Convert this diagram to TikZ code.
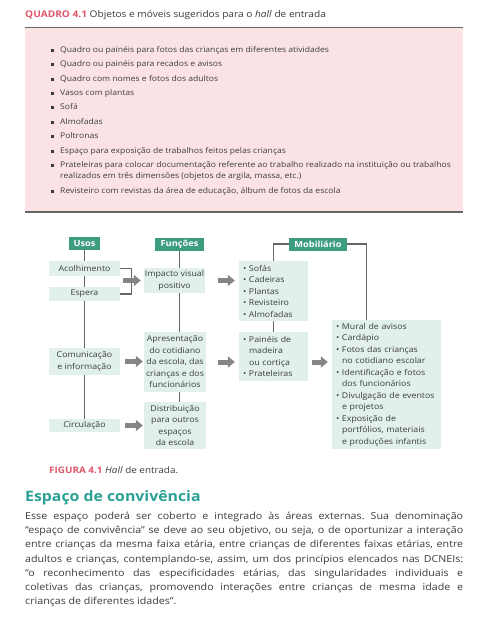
\documentclass[tikz,border=0pt]{standalone}
\usepackage{fontspec}
\setmainfont{Open Sans}[FakeStretch=1.1]
\usetikzlibrary{arrows.meta,backgrounds}
\definecolor{verde}{HTML}{3E9C80}
\definecolor{verdeclaro}{HTML}{E2F0EC}
\definecolor{rosa}{HTML}{FBE3E5}
\definecolor{vermelho}{HTML}{E0566A}
\definecolor{titulo}{HTML}{2AA196}
\definecolor{texto}{HTML}{3C3C3C}
\definecolor{linha}{HTML}{666666}
\definecolor{cinza}{HTML}{858585}
\newcommand{\bl}{\makebox[6pt][l]{•}}
\newcommand{\bc}{\hspace*{6pt}}
\hyphenpenalty=10000
\emergencystretch=20pt
\frenchspacing
\begin{document}
\begin{tikzpicture}[x=1pt,y=-1pt,
  caixa/.style={fill=verdeclaro,text=texto,inner sep=0pt,align=center,font=\fontsize{8}{11.5}\selectfont},
  lista/.style={caixa,align=left,inner xsep=4pt},
  cab/.style={fill=verde,text=white,inner sep=0pt,minimum height=13pt,font=\fontsize{8.4}{10}\selectfont\bfseries},
  item/.style={anchor=west,inner sep=0pt,text=texto,font=\fontsize{7.8}{10}\selectfont},
  lig/.style={draw=linha,line width=1.1pt},
  seta/.style={draw=cinza,line width=5pt,-{Triangle[length=7pt,width=11pt]}}]
\begin{scope}[on background layer]
\fill[white] (0,0) rectangle (489,637);
\end{scope}
\useasboundingbox (0,0) rectangle (489,637);
% quadro
\node[anchor=west,inner sep=0pt,text=texto,font=\fontsize{9.2}{11}\selectfont] (tit) at (25,15)
  {\textcolor{vermelho}{\bfseries QUADRO 4.1} Objetos e móveis sugeridos para o \textit{hall} de entrada};
\fill[rosa] (25,27) rectangle (463,212);
\draw[linha,line width=1pt] (25,27) -- (463,27);
\draw[linha,line width=2pt] (25,212) -- (463,212);
\foreach \y/\t [count=\i] in {50/{Quadro ou painéis para fotos das crianças em diferentes atividades},
  64/{Quadro ou painéis para recados e avisos},
  79/{Quadro com nomes e fotos dos adultos},
  93/{Vasos com plantas},
  107/{Sofá},
  122/{Almofadas},
  136/{Poltronas},
  151/{Espaço para exposição de trabalhos feitos pelas crianças},
  165/{Prateleiras para colocar documentação referente ao trabalho realizado na instituição ou trabalhos},
  191/{Revisteiro com revistas da área de educação, álbum de fotos da escola}}{
  \fill[texto] (50.5,\y-1.5) rectangle ++(3,3);
  \node[item] (q\i) at (60,\y) {\t};
}
\node[item] (q9b) at (60,176) {realizados em três dimensões (objetos de argila, massa, etc.)};
% cabecalhos
\node[cab,minimum width=31pt] (usos) at (84.5,243.5) {Usos};
\node[cab,minimum width=49pt] (func) at (179.5,244) {Funções};
\node[cab,minimum width=58pt] (mob) at (318,244) {Mobiliário};
% usos
\node[caixa,minimum width=71pt,minimum height=15pt] (aco) at (84.5,268.5) {Acolhimento};
\node[caixa,minimum width=71pt,minimum height=14pt] (esp) at (84.5,294) {Espera};
\node[caixa,minimum width=71pt,minimum height=27pt] (com) at (84.5,361.5) {Comunicação\\e informação};
\node[caixa,minimum width=71pt,minimum height=13pt] (cir) at (84.5,425.5) {Circulação};
% funcoes
\node[caixa,minimum width=61pt,minimum height=25pt] (imp) at (174.5,280.5) {Impacto visual\\positivo};
\node[caixa,minimum width=62pt,minimum height=60pt] (apr) at (175,362)
  {Apresentação\\do cotidiano\\da escola, das\\crianças e dos\\funcionários};
\node[caixa,minimum width=62pt,minimum height=47pt] (dis) at (175,425.5)
  {Distribuição\\para outros\\espaços\\da escola};
% mobiliario
\node[lista,text width=61pt,minimum height=60pt] (sof) at (273.5,291)
  {\bl Sofás\\\bl Cadeiras\\\bl Plantas\\\bl Revisteiro\\\bl Almofadas};
\node[lista,text width=61pt,minimum height=49pt] (pai) at (273.5,356.5)
  {\bl Painéis de\\\bc madeira\\\bc ou cortiça\\\bl Prateleiras};
\node[lista,text width=101pt,minimum height=129pt] (mur) at (386.5,384.5)
  {\bl Mural de avisos\\\bl Cardápio\\\bl Fotos das crianças\\\bc no cotidiano escolar\\
   \bl Identificação e fotos\\\bc dos funcionários\\\bl Divulgação de eventos\\\bc e projetos\\
   \bl Exposição de\\\bc portfólios, materiais\\\bc e produções infantis};
\begin{scope}[on background layer]
\draw[lig] (usos.south) -- (cir.north);
\draw[lig] (func.south) -- (func.south |- dis.north);
\draw[lig] (sof.south) -- (pai.north);
\draw[lig] (mob.west) -| (sof.north);
\draw[lig] (mob.east) -| ([xshift=-20pt]mur.north);
\end{scope}
\draw[lig] (aco.east) -- ++(11,0) coordinate (chave) |- (esp.east);
\draw[seta] ([xshift=-8pt]chave |- imp.west) -- ([xshift=-3pt]imp.west);
\draw[seta] ([xshift=13pt]imp.east) -- ([xshift=-4pt]sof.west |- imp.east);
\draw[seta] ([xshift=5pt]com.east) -- ([xshift=-1pt]apr.west |- com.east);
\draw[seta] ([xshift=12pt]apr.east) -- ([xshift=-4pt]pai.west |- apr.east);
\draw[seta] ([xshift=4pt]pai.east |- apr.east) -- ([xshift=-4pt]mur.west |- apr.east);
\draw[seta] ([xshift=5pt]cir.east) -- ([xshift=-1pt]dis.west |- cir.east);
% legenda e texto
\node[anchor=west,inner sep=0pt,text=texto,font=\fontsize{9}{11}\selectfont] (fig) at (49,470)
  {\textcolor{vermelho}{\bfseries FIGURA 4.1} \textit{Hall} de entrada.};
\node[anchor=west,inner sep=0pt,text=titulo,font=\fontsize{14.4}{18}\selectfont\bfseries] (sec) at (25,497.5)
  {Espaço de convivência};
\node[anchor=north west,inner sep=0pt,text width=438pt,align=justify,text=texto,
  font=\fontsize{9.7}{14.3}\selectfont] (par) at (25,511.5)
  {Esse espaço poderá ser coberto e integrado às áreas externas. Sua denominação\linebreak
  “espaço de convivência” se deve ao seu objetivo, ou seja, o de oportunizar a interação\linebreak
  entre crianças da mesma faixa etária, entre crianças de diferentes faixas etárias, entre\linebreak
  adultos e crianças, contemplando-se, assim, um dos princípios elencados nas DCNEIs:\linebreak
  “o reconhecimento das especificidades etárias, das singularidades individuais e\linebreak
  coletivas das crianças, promovendo interações entre crianças de mesma idade e\linebreak
  crianças de diferentes idades”.};
\end{tikzpicture}
\end{document}
